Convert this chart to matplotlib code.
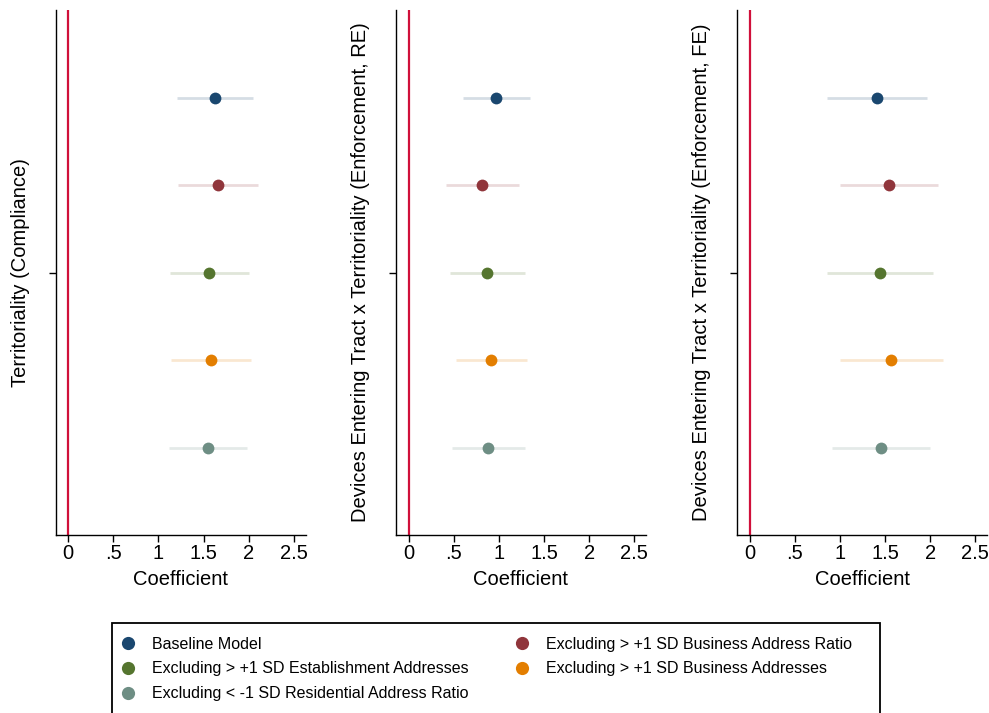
import matplotlib
matplotlib.use("Agg")
import matplotlib.pyplot as plt
from matplotlib.colors import to_rgba
from matplotlib.lines import Line2D
from matplotlib.patches import Rectangle

plt.rcParams['font.family'] = ['Liberation Sans', 'DejaVu Sans']

series = ["Baseline Model",
          "Excluding > +1 SD Business Address Ratio",
          "Excluding > +1 SD Establishment Addresses",
          "Excluding > +1 SD Business Addresses",
          "Excluding < -1 SD Residential Address Ratio"]
colors = ["#1a476f", "#90353b", "#55752f", "#e37e00", "#6e8e84"]
ypos = [5, 4, 3, 2, 1]

panel_labels = ["Territoriality (Compliance)",
                "Devices Entering Tract x Territoriality (Enforcement, RE)",
                "Devices Entering Tract x Territoriality (Enforcement, FE)"]

# point estimates and confidence bounds per panel (order of series)
coef_p1 = [1.63, 1.66, 1.56, 1.58, 1.55]
lo_p1 = [1.21, 1.22, 1.13, 1.14, 1.12]
hi_p1 = [2.05, 2.10, 2.00, 2.03, 1.98]

coef_p2 = [0.97, 0.81, 0.87, 0.91, 0.88]
lo_p2 = [0.60, 0.41, 0.46, 0.52, 0.48]
hi_p2 = [1.35, 1.22, 1.29, 1.31, 1.29]

coef_p3 = [1.41, 1.54, 1.44, 1.57, 1.45]
lo_p3 = [0.86, 1.00, 0.86, 1.00, 0.91]
hi_p3 = [1.97, 2.09, 2.03, 2.14, 2.00]

xticks = [0, 0.5, 1, 1.5, 2, 2.5]
xticklabels = ["0", ".5", "1", "1.5", "2", "2.5"]

panels = [(coef_p1, lo_p1, hi_p1), (coef_p2, lo_p2, hi_p2), (coef_p3, lo_p3, hi_p3)]

FS = 14.5
fig = plt.figure(figsize=(9.89, 7.13), dpi=100)
W, H = 989, 713
lefts = [55.5, 396, 737]
for i, (coef, lo, hi) in enumerate(panels):
    ax = fig.add_axes([lefts[i] / W, 1 - 535 / H, 250 / W, 525 / H])
    ax.axvline(0, color="#d0103a", lw=1.6, zorder=1)
    for c, l, h, y, col in zip(coef, lo, hi, ypos, colors):
        ax.plot([l, h], [y, y], color=to_rgba(col, 0.18), lw=2, solid_capstyle='butt', zorder=2)
        ax.plot([c], [y], 'o', color=col, ms=8.5, mec='none', zorder=3)
    ax.set_xlim(-0.14, 2.63)
    ax.set_ylim(0, 6)
    ax.set_yticks([3])
    ax.set_yticklabels([])
    ax.set_xticks(xticks)
    ax.set_xticklabels(xticklabels, fontsize=FS)
    ax.tick_params(direction='out', length=5, width=1, color='black', pad=1.5)
    ax.set_xlabel("Coefficient", fontsize=FS, labelpad=5)
    ax.set_ylabel(panel_labels[i], fontsize=FS, labelpad=12)
    for s in ['top', 'right']:
        ax.spines[s].set_visible(False)
    for s in ['left', 'bottom']:
        ax.spines[s].set_linewidth(1.0)

# legend frame (extends below the figure edge, as in the reference)
frame = Rectangle((112 / W, -10 / H), 768 / W, (713 - 623 + 10) / H,
                  transform=fig.transFigure, fill=False, edgecolor='black',
                  lw=1.3, zorder=5)
fig.patches.append(frame)

handles = [Line2D([], [], marker='o', ls='none', color=c, ms=9.5, mec='none') for c in colors]
order = [0, 2, 4, 1, 3]
leg = fig.legend([handles[k] for k in order], [series[k] for k in order],
                 loc='upper left', bbox_to_anchor=(106 / W, 1 - 623 / H),
                 ncol=2, fontsize=11.5, frameon=False,
                 handletextpad=1.0, labelspacing=0.62, borderaxespad=0,
                 borderpad=0.85, handlelength=1.0, columnspacing=2.9)

fig.savefig("out.png", dpi=100)
